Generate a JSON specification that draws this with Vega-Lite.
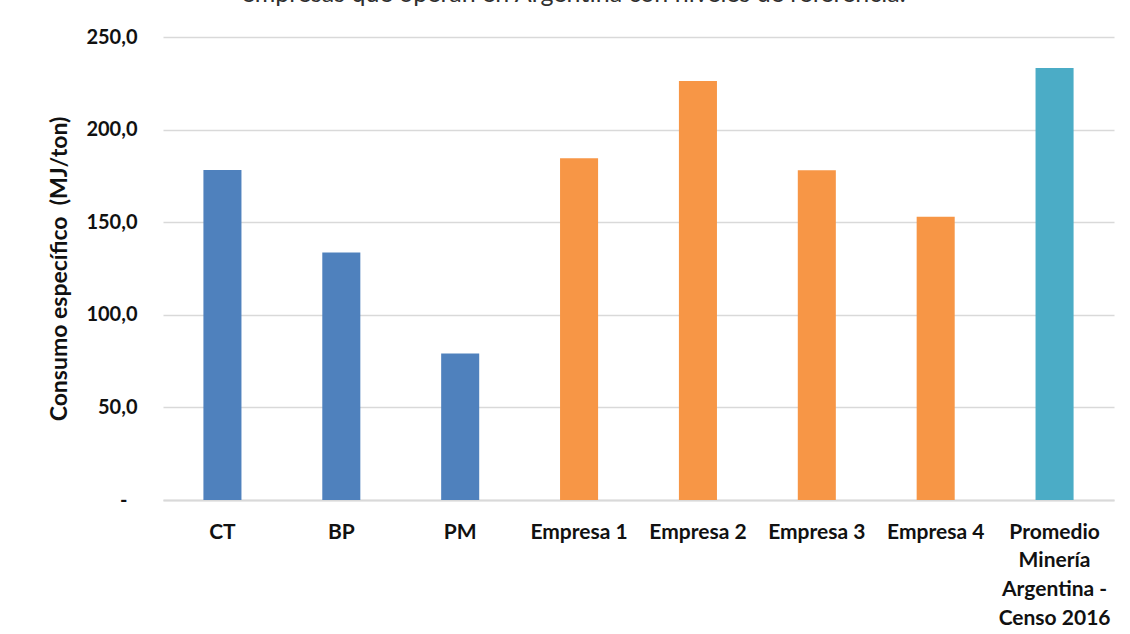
{
  "$schema": "https://vega.github.io/schema/vega-lite/v6.json",
  "autosize": "none",
  "width": 951,
  "height": 463,
  "padding": {"left": 163, "top": 37, "right": 16, "bottom": 134},
  "background": "white",
  "title": {
    "text": "empresas que operan en Argentina con niveles de referencia.",
    "orient": "top",
    "anchor": "middle",
    "frame": "group",
    "dx": -65,
    "offset": 0,
    "baseline": "alphabetic",
    "font": "Lato",
    "fontSize": 25,
    "fontWeight": "normal",
    "color": "#303030"
  },
  "data": {
    "values": [
      {"categoria": "CT", "grupo": "Referencia", "valor": 178.2},
      {"categoria": "BP", "grupo": "Referencia", "valor": 133.7},
      {"categoria": "PM", "grupo": "Referencia", "valor": 79.1},
      {"categoria": "Empresa 1", "grupo": "Empresa", "valor": 184.5},
      {"categoria": "Empresa 2", "grupo": "Empresa", "valor": 226.3},
      {"categoria": "Empresa 3", "grupo": "Empresa", "valor": 178.0},
      {"categoria": "Empresa 4", "grupo": "Empresa", "valor": 152.9},
      {"categoria": "Promedio Minería Argentina - Censo 2016", "grupo": "Censo", "valor": 233.3}
    ]
  },
  "mark": {"type": "bar"},
  "encoding": {
    "x": {
      "field": "categoria",
      "type": "nominal",
      "sort": null,
      "scale": {"paddingInner": 0.68, "paddingOuter": 0.34},
      "axis": {
        "title": null,
        "labelAngle": 0,
        "labelFont": "Lato",
        "labelFontSize": 21,
        "labelFontWeight": "bold",
        "labelColor": "#111111",
        "labelPadding": 21,
        "labelBaseline": "top",
        "labelLineHeight": 28.7,
        "labelLimit": 300,
        "labelExpr": "datum.value == 'Promedio Minería Argentina - Censo 2016' ? ['Promedio', 'Minería', 'Argentina -', 'Censo 2016'] : datum.value",
        "ticks": false,
        "domain": true,
        "domainColor": "#D9D9D9",
        "domainWidth": 2,
        "grid": false
      }
    },
    "y": {
      "field": "valor",
      "type": "quantitative",
      "scale": {"domain": [0, 250], "nice": false},
      "axis": {
        "title": "Consumo específico\u00a0\u00a0(MJ/ton)",
        "titleFont": "Lato",
        "titleFontSize": 23,
        "titleFontWeight": "bold",
        "titleColor": "#111111",
        "titlePadding": 14,
        "values": [0, 50, 100, 150, 200, 250],
        "labelExpr": "datum.value == 0 ? '-' : replace(format(datum.value, '.1f'), '.', ',')",
        "labelFont": "Lato",
        "labelFontSize": 20,
        "labelFontWeight": "bold",
        "labelColor": "#111111",
        "labelPadding": {"condition": {"test": "datum.value == 0", "value": 36}, "value": 26},
        "ticks": false,
        "domain": false,
        "grid": true,
        "gridColor": "#D9D9D9",
        "gridWidth": 1.5
      }
    },
    "color": {
      "field": "grupo",
      "type": "nominal",
      "scale": {"domain": ["Referencia", "Empresa", "Censo"], "range": ["#4F81BD", "#F79646", "#4BACC6"]},
      "legend": null
    }
  },
  "config": {
    "view": {"stroke": null}
  }
}
